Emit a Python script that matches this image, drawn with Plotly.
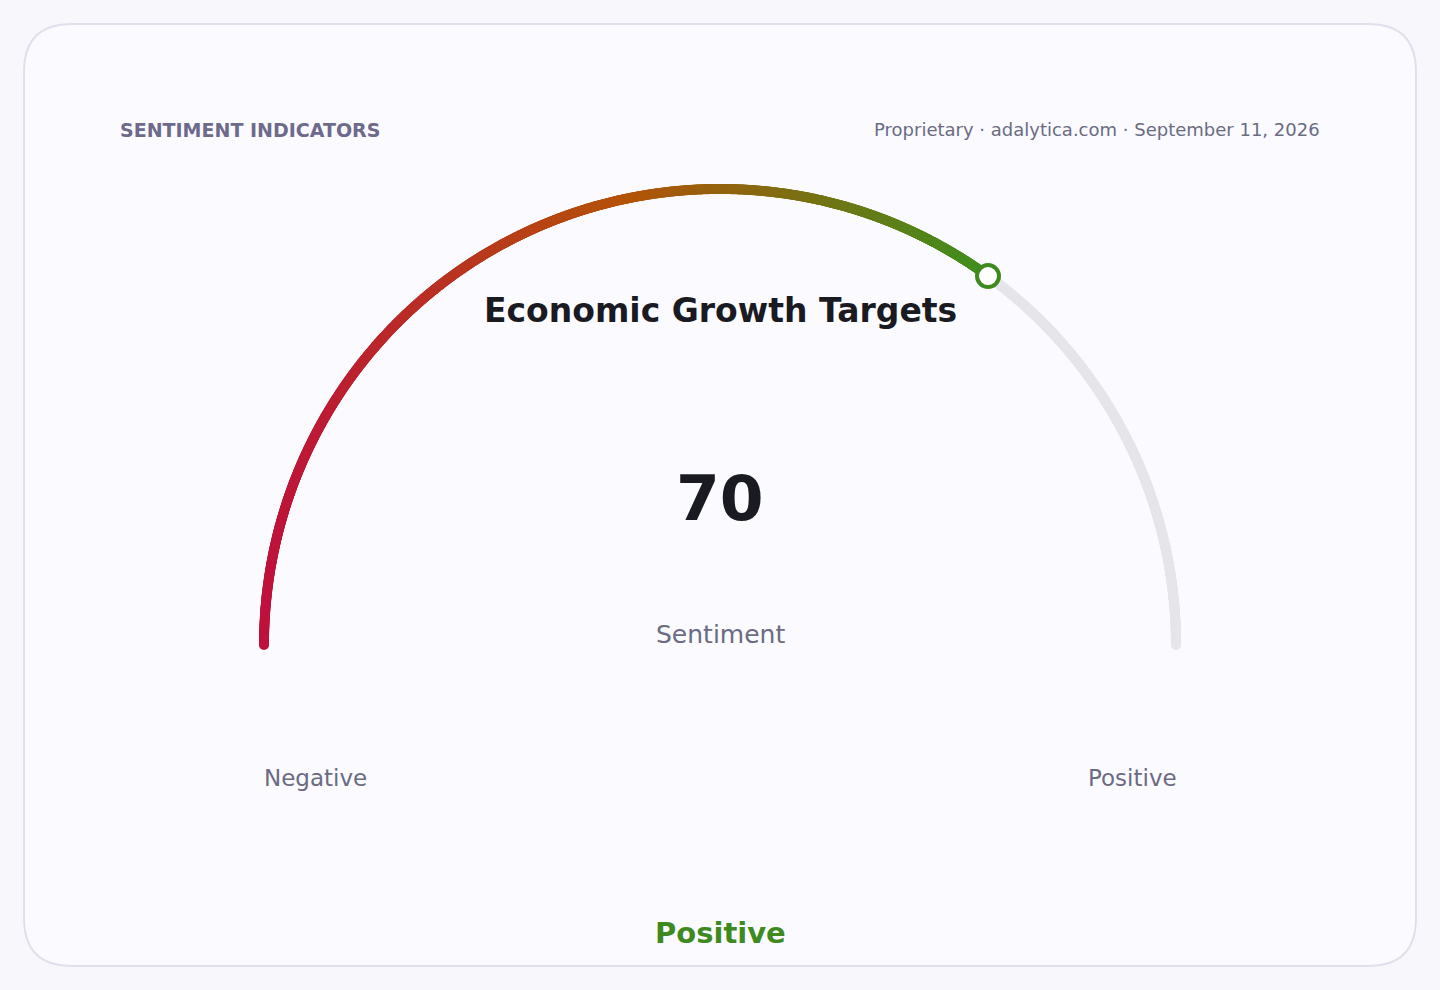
import numpy as np
import plotly.graph_objects as go

# ---- data ----
title = "Economic Growth Targets"
kicker = "SENTIMENT INDICATORS"
source = "Proprietary · adalytica.com · September 11, 2026"
metric = "Sentiment"
value = 70
vmin, vmax = 0, 100
end_labels = ["Negative", "Positive"]
verdict = "Positive"

# ---- look ----
W, H = 1440, 990
CX, CY, R = 720, 645, 456          # gauge centre / radius in px
FONT = "DejaVu Sans"
GREY = "#6b6b82"
GREEN = "#3f8a1f"
BG = "#f8f8fc"
grad = [[0, "#be123c"], [0.5, "#b45309"], [1, "#3f8f1f"]]


def ang(v):
    # value -> angle (rad), 180deg at vmin, 0 at vmax
    return np.pi * (1 - (v - vmin) / (vmax - vmin))


def px2x(p):
    return (p - CX) / R


def px2y(p):
    return (CY - p) / R


fig = go.Figure()

# grey track (value -> max)
t_track = np.linspace(ang(value), ang(vmax), 700)
fig.add_trace(go.Scatter(x=np.cos(t_track), y=np.sin(t_track), mode="markers",
                         marker=dict(size=10, color="#e5e5ea", line_width=0),
                         hoverinfo="skip", showlegend=False))

# coloured arc (min -> value), gradient along x
t_val = np.linspace(ang(vmin), ang(value), 1000)
xs, ys = np.cos(t_val), np.sin(t_val)
fig.add_trace(go.Scatter(x=xs, y=ys, mode="markers",
                         marker=dict(size=10, color=xs, colorscale=grad,
                                     cmin=xs.min(), cmax=xs.max(), line_width=0),
                         hoverinfo="skip", showlegend=False))

# end knob
fig.add_trace(go.Scatter(x=[np.cos(ang(value))], y=[np.sin(ang(value))], mode="markers",
                         marker=dict(size=22, color="white",
                                     line=dict(color=GREEN, width=4)),
                         hoverinfo="skip", showlegend=False))

# card outline (rounded rectangle)
x0, x1, y0, y1, rr = px2x(24), px2x(1416), px2y(24), px2y(966), 48 / R
card = (f"M {x0+rr},{y0} L {x1-rr},{y0} Q {x1},{y0} {x1},{y0-rr} "
        f"L {x1},{y1+rr} Q {x1},{y1} {x1-rr},{y1} L {x0+rr},{y1} "
        f"Q {x0},{y1} {x0},{y1+rr} L {x0},{y0-rr} Q {x0},{y0} {x0+rr},{y0} Z")
fig.add_shape(type="path", path=card, xref="x", yref="y", layer="below",
              fillcolor="#fafaff", line=dict(color="#e0e0ec", width=2))


def note(text, x, y, size, color, anchor="center", bold=False):
    fig.add_annotation(text=f"<b>{text}</b>" if bold else text,
                       x=x / W, y=1 - y / H, xref="paper", yref="paper",
                       xanchor=anchor, yanchor="middle", showarrow=False,
                       font=dict(family=FONT, size=size, color=color))


note(kicker, 118, 130, 19, "#6e6a8c", "left", bold=True)
note(source, 1322, 130, 18, GREY, "right")
note(title, 720, 310, 33, "#1a1a22", bold=True)
note(str(value), 720, 498, 63, "#1a1a22", bold=True)
note(metric, 720, 634, 25, GREY)
note(end_labels[0], 262, 778, 23, GREY, "left")
note(end_labels[1], 1179, 778, 23, GREY, "right")
note(verdict, 720, 933, 29, GREEN, bold=True)

fig.update_layout(
    width=W, height=H, margin=dict(l=0, r=0, t=0, b=0),
    paper_bgcolor=BG, plot_bgcolor="rgba(0,0,0,0)",
    xaxis=dict(range=[px2x(0), px2x(W)], visible=False, fixedrange=True),
    yaxis=dict(range=[px2y(H), px2y(0)], visible=False, fixedrange=True),
)

fig.write_html("out.html", config={"displayModeBar": False},
               post_script=f"document.body.style.margin='0';"
                           f"document.body.style.background='{BG}';")
